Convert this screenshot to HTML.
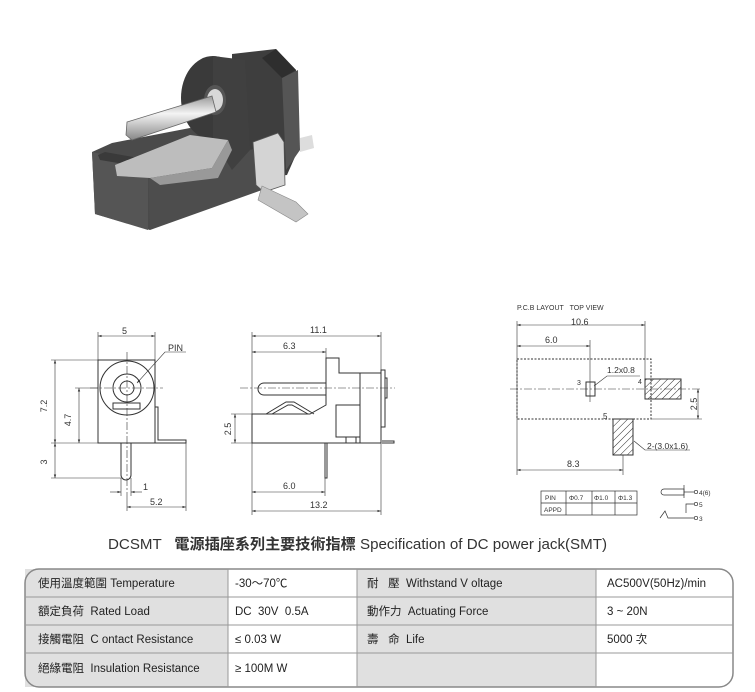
<!DOCTYPE html>
<html><head><meta charset="utf-8"><style>
body{margin:0;background:#fff;width:755px;height:692px;overflow:hidden;font-family:"Liberation Sans","Noto Sans CJK TC",sans-serif}
svg{position:absolute;left:0;top:0}
</style></head><body>
<svg width="755" height="692" viewBox="0 0 755 692" font-family="Liberation Sans, Noto Sans CJK TC, sans-serif">
<defs>
<pattern id="h" width="5" height="5" patternUnits="userSpaceOnUse" patternTransform="rotate(45)"><line x1="0" y1="0" x2="0" y2="5" stroke="#333" stroke-width="1"/></pattern>
<marker id="a" markerWidth="6" markerHeight="6" refX="6" refY="3" orient="auto-start-reverse"><path d="M0,1 L6,3 L0,5" fill="#333"/></marker>
<linearGradient id="pin" x1="0" y1="0" x2="0" y2="1"><stop offset="0" stop-color="#999"/><stop offset="0.4" stop-color="#f4f4f4"/><stop offset="1" stop-color="#888"/></linearGradient>
</defs>
<!-- photo -->
<g>
<polygon points="232,54 276,49 296,70 298,150 287,175 258,178 232,170" fill="#3e3e3e"/>
<polygon points="276,49 296,70 282,78 262,58" fill="#2e2e2e"/>
<polygon points="282,78 298,70 300,150 286,170" fill="#555"/>
<polygon points="92,152 112,143 190,128 240,135 250,160 240,175 150,205 150,230 95,214" fill="#4a4a4a"/>
<polygon points="92,152 148,165 148,230 95,214" fill="#555"/>
<polygon points="148,165 262,148 262,190 150,230" fill="#4d4d4d"/>
<polygon points="98,155 105,152 150,160 148,168 100,160" fill="#3a3a3a"/>
<ellipse cx="213" cy="98" rx="32" ry="42" fill="#3a3a3a"/>
<polygon points="213,56 245,60 250,150 232,170 213,140" fill="#404040"/>
<ellipse cx="215" cy="100" rx="11" ry="15" fill="#555"/>
<ellipse cx="215" cy="100" rx="8" ry="11" fill="#d8d8d8"/>
<polygon points="127,122 212,96 216,112 132,140 126,135" fill="url(#pin)" stroke="#666" stroke-width="0.8"/>
<polygon points="115,165 190,135 228,140 212,168 150,178 117,176" fill="#bdbdbd"/>
<polygon points="150,178 212,168 228,140 232,150 218,178 160,185" fill="#999"/>
<polygon points="253,142 278,133 284,142 285,185 264,192 256,185" fill="#d4d4d4" stroke="#555" stroke-width="0.8"/>
<polygon points="262,186 296,202 308,214 296,222 258,200" fill="#c4c4c4" stroke="#888" stroke-width="0.6"/>
<polygon points="300,138 312,135 314,148 300,152" fill="#ddd"/>
</g>
<!-- front view -->
<g fill="none" stroke="#333" stroke-width="1">
<rect x="98" y="360" width="57" height="83"/>
<circle cx="127" cy="388" r="27"/><circle cx="127" cy="388" r="14"/><circle cx="127" cy="388" r="7"/>
<rect x="113" y="403" width="27" height="6"/>
<path d="M155,407 h3 v33 h28 v3 h-31"/>
<path d="M121,443 v32 a5,5 0 0 0 10,0 v-32"/>
<g stroke-width="0.6" stroke-dasharray="8,2,2,2"><line x1="127" y1="352" x2="127" y2="500"/><line x1="90" y1="388" x2="163" y2="388"/></g>
<g stroke-width="0.6">
<line x1="98" y1="332" x2="98" y2="360"/><line x1="155" y1="332" x2="155" y2="360"/>
<line x1="98" y1="336" x2="155" y2="336" marker-start="url(#a)" marker-end="url(#a)"/>
<line x1="51" y1="360" x2="98" y2="360"/><line x1="51" y1="443" x2="121" y2="443"/><line x1="75" y1="388" x2="98" y2="388"/><line x1="51" y1="478" x2="121" y2="478"/>
<line x1="55" y1="360" x2="55" y2="443" marker-start="url(#a)" marker-end="url(#a)"/>
<line x1="79" y1="388" x2="79" y2="443" marker-start="url(#a)" marker-end="url(#a)"/>
<line x1="55" y1="443" x2="55" y2="478" marker-start="url(#a)" marker-end="url(#a)"/>
<line x1="121" y1="478" x2="121" y2="496"/><line x1="131" y1="478" x2="131" y2="496"/>
<line x1="110" y1="492" x2="121" y2="492" marker-end="url(#a)"/><line x1="142" y1="492" x2="131" y2="492" marker-end="url(#a)"/>
<line x1="127" y1="500" x2="127" y2="511"/><line x1="186" y1="443" x2="186" y2="511"/>
<line x1="127" y1="507" x2="186" y2="507" marker-start="url(#a)" marker-end="url(#a)"/>
<polyline points="186,352 165,352 137,383" marker-end="url(#a)"/>
</g></g>
<g font-size="9" fill="#333">
<text x="122" y="334">5</text><text x="168" y="351">PIN</text>
<text x="47" y="406" transform="rotate(-90 47 406)" text-anchor="middle">7.2</text>
<text x="71" y="420" transform="rotate(-90 71 420)" text-anchor="middle">4.7</text>
<text x="47" y="462" transform="rotate(-90 47 462)" text-anchor="middle">3</text>
<text x="143" y="490">1</text><text x="150" y="505">5.2</text>
</g>
<!-- side view -->
<g fill="none" stroke="#333" stroke-width="1">
<path d="M252,414 h58 l16,-9 v-47 h13 v15 h21 v70 h-108 z"/>
<rect x="360" y="373" width="21" height="70"/>
<rect x="381" y="370" width="4" height="57"/>
<rect x="385" y="378" width="2" height="20"/>
<path d="M326,383 h-62 a6,6 0 0 0 0,12 h62"/>
<path d="M266,414 l20,-12 l8,0 l20,12"/><path d="M272,414 l16,-9 l4,0 l16,9"/>
<rect x="336" y="405" width="24" height="32"/><rect x="346" y="437" width="10" height="6"/>
<path d="M325,443 v35 h2 v-35"/>
<path d="M382,441 h12 v2 h-12"/>
<g stroke-width="0.6">
<line x1="240" y1="388" x2="395" y2="388" stroke-dasharray="8,2,2,2"/>
<line x1="252" y1="332" x2="252" y2="515"/><line x1="381" y1="332" x2="381" y2="370"/><line x1="381" y1="443" x2="381" y2="515"/>
<line x1="326" y1="348" x2="326" y2="358"/><line x1="325" y1="478" x2="325" y2="496"/>
<line x1="252" y1="336" x2="381" y2="336" marker-start="url(#a)" marker-end="url(#a)"/>
<line x1="252" y1="352" x2="326" y2="352" marker-start="url(#a)" marker-end="url(#a)"/>
<line x1="252" y1="492" x2="325" y2="492" marker-start="url(#a)" marker-end="url(#a)"/>
<line x1="252" y1="511" x2="381" y2="511" marker-start="url(#a)" marker-end="url(#a)"/>
<line x1="231" y1="414" x2="252" y2="414"/><line x1="231" y1="443" x2="252" y2="443"/>
<line x1="235" y1="414" x2="235" y2="443" marker-start="url(#a)" marker-end="url(#a)"/>
</g></g>
<g font-size="9" fill="#333">
<text x="310" y="333">11.1</text><text x="283" y="349">6.3</text><text x="283" y="489">6.0</text><text x="310" y="508">13.2</text>
<text x="231" y="429" transform="rotate(-90 231 429)" text-anchor="middle">2.5</text>
</g>
<!-- PCB layout -->
<g font-size="7" fill="#333"><text x="517" y="310">P.C.B LAYOUT&#160;&#160;&#160;TOP VIEW</text></g>
<g fill="none" stroke="#333" stroke-width="1">
<rect x="517" y="359" width="134" height="60" stroke-dasharray="2,1.5"/>
<rect x="645" y="379" width="36" height="20" fill="url(#h)"/>
<rect x="613" y="419" width="20" height="36" fill="url(#h)"/>
<rect x="586" y="382" width="9" height="14"/>
<g stroke-width="0.6">
<line x1="510" y1="389" x2="700" y2="389" stroke-dasharray="8,2,2,2"/>
<line x1="590" y1="340" x2="590" y2="402"/>
<line x1="517" y1="321" x2="517" y2="475"/><line x1="645" y1="321" x2="645" y2="379"/><line x1="623" y1="455" x2="623" y2="475"/>
<line x1="517" y1="325" x2="645" y2="325" marker-start="url(#a)" marker-end="url(#a)"/>
<line x1="517" y1="346" x2="590" y2="346" marker-start="url(#a)" marker-end="url(#a)"/>
<line x1="517" y1="470" x2="623" y2="470" marker-start="url(#a)" marker-end="url(#a)"/>
<line x1="651" y1="419" x2="702" y2="419"/>
<line x1="698" y1="389" x2="698" y2="419" marker-start="url(#a)" marker-end="url(#a)"/>
<polyline points="640,376 607,376 594,386"/>
<polyline points="690,450 645,450 634,441"/>
</g></g>
<g font-size="9" fill="#333">
<text x="571" y="325" font-size="9">10.6</text><text x="545" y="343">6.0</text><text x="567" y="467">8.3</text>
<text x="607" y="373" font-size="8.5">1.2x0.8</text><text x="577" y="385" font-size="7">3</text><text x="638" y="384" font-size="7">4</text><text x="603" y="419" font-size="8">5</text>
<text x="647" y="449" font-size="8.5">2-(3.0x1.6)</text>
<text x="697" y="404" transform="rotate(-90 697 404)" text-anchor="middle">2.5</text>
</g>
<g fill="none" stroke="#333" stroke-width="0.7">
<rect x="541" y="491" width="96" height="24"/><line x1="541" y1="503" x2="637" y2="503"/>
<line x1="566" y1="491" x2="566" y2="515"/><line x1="592" y1="491" x2="592" y2="515"/><line x1="615" y1="491" x2="615" y2="515"/>
<path d="M684,489 h-20 a3,3 0 0 0 0,6 h20 z"/><line x1="684" y1="485" x2="684" y2="498"/><line x1="684" y1="492" x2="694" y2="492"/><circle cx="696" cy="492" r="1.7"/>
<polyline points="694,504 686,504 686,513"/><circle cx="696" cy="504" r="1.7"/>
<polyline points="660,518 665,511 668,518 694,518"/><circle cx="696" cy="518" r="1.7"/>
</g>
<g font-size="6.5" fill="#333">
<text x="545" y="500">PIN</text><text x="569" y="500">Φ0.7</text><text x="594" y="500">Φ1.0</text><text x="618" y="500">Φ1.3</text><text x="544" y="512">APPD</text>
<text x="699" y="495">4(6)</text><text x="699" y="507">5</text><text x="699" y="521">3</text>
</g>
<!-- title -->
<text x="108" y="549" font-size="15" fill="#333" textLength="499" lengthAdjust="spacingAndGlyphs">DCSMT&#160;&#160;&#160;<tspan font-weight="bold">電源插座系列主要技術指標</tspan> Specification of DC power jack(SMT)</text>
<!-- table -->
<g>
<rect x="25" y="569" width="708" height="118" rx="14" fill="#fff"/>
<rect x="25" y="569" width="203" height="118" fill="#e0e0e0"/>
<rect x="357" y="569" width="239" height="118" fill="#e0e0e0"/>
<rect x="25" y="569" width="708" height="118" rx="14" fill="none" stroke="#888" stroke-width="1.5"/>
<g stroke="#999" stroke-width="1"><line x1="25" y1="597" x2="733" y2="597"/><line x1="25" y1="625" x2="733" y2="625"/><line x1="25" y1="653" x2="733" y2="653"/>
<line x1="228" y1="569" x2="228" y2="687"/><line x1="357" y1="569" x2="357" y2="687"/><line x1="596" y1="569" x2="596" y2="687"/></g>
<g font-size="11.5" fill="#222">
<text x="38" y="587">使用溫度範圍 Temperature</text><text x="38" y="615">額定負荷&#160; Rated Load</text><text x="38" y="643">接觸電阻&#160; C ontact Resistance</text><text x="38" y="672">絕緣電阻&#160; Insulation Resistance</text>
<text x="235" y="587">-30～70℃</text><text x="235" y="615">DC&#160; 30V&#160; 0.5A</text><text x="235" y="643">≤ 0.03 W</text><text x="235" y="672">≥ 100M W</text>
<text x="367" y="587">耐&#160;&#160;&#160;壓&#160; Withstand V oltage</text><text x="367" y="615">動作力&#160; Actuating Force</text><text x="367" y="643">壽&#160;&#160;&#160;命&#160; Life</text>
<text x="607" y="587">AC500V(50Hz)/min</text><text x="607" y="615">3 ~ 20N</text><text x="607" y="643">5000 次</text>
</g></g>
</svg>
</body></html>
